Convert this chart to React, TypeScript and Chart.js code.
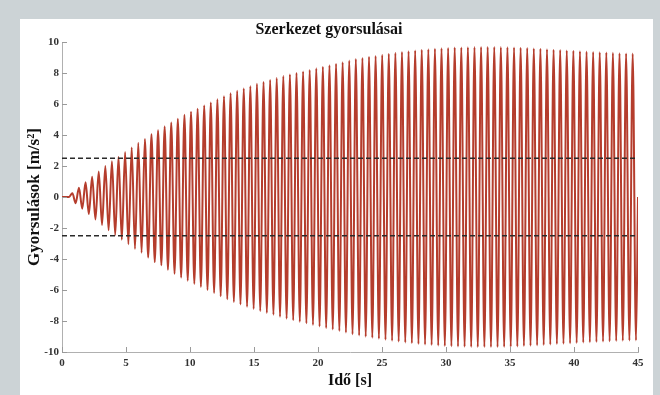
import React, { useEffect, useRef } from "react";
import { Chart, registerables } from "chart.js";

Chart.register(...registerables);

// Time axis (s)
const xTicks = [0, 5, 10, 15, 20, 25, 30, 35, 40, 45];
const yTicks = [-10, -8, -6, -4, -2, 0, 2, 4, 6, 8, 10];
const tStart = 0;
const tEnd = 45;
const onsetTime = 0.55; // signal stays at 0 until here
const firstPeakTime = 0.81; // time of first positive peak
const period = 0.515; // oscillation period (s)

// Positive peak accelerations, one per cycle (m/s^2)
const positivePeaks = [
  0.25, 0.6, 0.95, 1.3, 1.65, 2.0, 2.3, 2.6, 2.9, 3.2, 3.5, 3.75, 4.05, 4.3, 4.55,
  4.8, 5.05, 5.3, 5.5, 5.7, 5.9, 6.1, 6.3, 6.5, 6.7, 6.85, 7.0, 7.15, 7.3,
  7.42, 7.55, 7.67, 7.8, 7.9, 8.0, 8.1, 8.2, 8.3, 8.4, 8.5, 8.6, 8.7, 8.8, 8.9,
  8.97, 9.05, 9.1, 9.17, 9.25, 9.3, 9.35, 9.4, 9.45, 9.5, 9.53, 9.56, 9.6, 9.62,
  9.64, 9.65, 9.66, 9.67, 9.68, 9.68, 9.68, 9.67, 9.66, 9.65, 9.63, 9.61, 9.58,
  9.56, 9.53, 9.5, 9.48, 9.45, 9.43, 9.4, 9.38, 9.36, 9.34, 9.32, 9.3, 9.28,
  9.26, 9.25,
];

// Negative peak accelerations, one per cycle (m/s^2)
const negativePeaks = [
  -0.4, -0.75, -1.1, -1.45, -1.8, -2.15, -2.45, -2.75, -3.05, -3.35, -3.6, -3.9,
  -4.2, -4.4, -4.7, -4.95, -5.2, -5.4, -5.6, -5.8, -6.0, -6.2, -6.4, -6.6, -6.78,
  -6.93, -7.08, -7.22, -7.36, -7.48, -7.6, -7.73, -7.85, -7.95, -8.05, -8.15,
  -8.25, -8.35, -8.45, -8.55, -8.65, -8.75, -8.85, -8.93, -9.01, -9.08, -9.14,
  -9.21, -9.28, -9.33, -9.38, -9.43, -9.48, -9.52, -9.55, -9.58, -9.61, -9.63,
  -9.65, -9.66, -9.67, -9.68, -9.68, -9.68, -9.68, -9.67, -9.66, -9.64, -9.62,
  -9.6, -9.57, -9.55, -9.52, -9.49, -9.47, -9.44, -9.42, -9.39, -9.37, -9.35,
  -9.33, -9.31, -9.29, -9.27, -9.26, -9.25,
];

// Dashed limit lines (m/s^2)
const limitLines = [2.5, -2.5];

const titleText = "Szerkezet gyorsulásai";
const xTitle = "Idő [s]";
const yTitle = "Gyorsulások [m/s²]";

const FONT = "'Liberation Serif', 'Times New Roman', serif";
const SIGNAL_COLOR = "#b53d2d";

function buildSignal() {
  const pts: { x: number; y: number }[] = [
    { x: tStart, y: 0 },
    { x: onsetTime, y: 0 },
  ];
  const n = Math.min(positivePeaks.length, negativePeaks.length);
  for (let k = 0; k < n; k++) {
    const tp = firstPeakTime + k * period;
    if (tp <= tEnd) pts.push({ x: tp, y: positivePeaks[k] });
    const tn = tp + period / 2;
    if (tn <= tEnd) pts.push({ x: tn, y: negativePeaks[k] });
  }
  pts.push({ x: tEnd, y: 0 });
  return pts;
}

const inwardTicks = {
  id: "inwardTicks",
  afterDraw(chart: any) {
    const { ctx, chartArea, scales } = chart;
    ctx.save();
    ctx.strokeStyle = "#9a9a9a";
    ctx.lineWidth = 1;
    scales.x.ticks.forEach((t: any) => {
      const px = Math.round(scales.x.getPixelForValue(t.value)) + 0.5;
      ctx.beginPath();
      ctx.moveTo(px, chartArea.bottom);
      ctx.lineTo(px, chartArea.bottom - 5);
      ctx.stroke();
    });
    scales.y.ticks.forEach((t: any) => {
      const py = Math.round(scales.y.getPixelForValue(t.value)) + 0.5;
      ctx.beginPath();
      ctx.moveTo(chartArea.left, py);
      ctx.lineTo(chartArea.left + 5, py);
      ctx.stroke();
    });
    ctx.restore();
  },
};

export default function App() {
  const ref = useRef<HTMLCanvasElement | null>(null);

  useEffect(() => {
    if (!ref.current) return;
    const limitSets = limitLines.map((v) => ({
      data: [
        { x: tStart, y: v },
        { x: tEnd, y: v },
      ],
      borderColor: "#2a2a2a",
      borderWidth: 1.3,
      borderDash: [5, 3],
      pointRadius: 0,
      showLine: true,
      fill: false,
    }));
    const chart = new Chart(ref.current, {
      type: "scatter",
      data: {
        datasets: [
          ...limitSets,
          {
            data: buildSignal(),
            borderColor: SIGNAL_COLOR,
            borderWidth: 2,
            pointRadius: 0,
            showLine: true,
            fill: false,
            cubicInterpolationMode: "monotone",
          },
        ],
      } as any,
      options: {
        animation: false,
        responsive: false,
        devicePixelRatio: 1,
        layout: { padding: { left: 0, right: 15, top: 0, bottom: 0 } },
        plugins: {
          legend: { display: false },
          tooltip: { enabled: false },
          title: {
            display: true,
            text: titleText,
            color: "#111",
            font: { family: FONT, size: 16, weight: "bold" },
            padding: { top: 1.4, bottom: 2.4 },
          },
        },
        scales: {
          x: {
            type: "linear",
            min: tStart,
            max: tEnd,
            afterFit: (s: any) => {
              s.height = 43;
            },
            afterBuildTicks: (s: any) => {
              s.ticks = xTicks.map((v) => ({ value: v }));
            },
            grid: { display: false, drawTicks: false },
            border: { display: true, color: "#b0b0b0", width: 1 },
            ticks: {
              color: "#333",
              padding: 5,
              maxRotation: 0,
              font: { family: FONT, size: 11, weight: "bold" },
            },
            title: {
              display: true,
              text: xTitle,
              color: "#111",
              font: { family: FONT, size: 16, weight: "bold" },
              padding: { top: 0, bottom: 4.4 },
            },
          },
          y: {
            type: "linear",
            min: -10,
            max: 10,
            afterFit: (s: any) => {
              s.width = 42;
            },
            afterBuildTicks: (s: any) => {
              s.ticks = yTicks.map((v) => ({ value: v }));
            },
            grid: { display: false, drawTicks: false },
            border: { display: true, color: "#b0b0b0", width: 1 },
            ticks: {
              color: "#333",
              padding: 3,
              font: { family: FONT, size: 11, weight: "bold" },
            },
            title: {
              display: true,
              text: yTitle,
              color: "#111",
              font: { family: FONT, size: 17, weight: "bold" },
              padding: { top: 4.8, bottom: 0 },
            },
          },
        },
      } as any,
      plugins: [inwardTicks],
    });
    return () => chart.destroy();
  }, []);

  return (
    <div
      style={{
        position: "absolute",
        left: 0,
        top: 0,
        width: 660,
        height: 395,
        background: "#ccd3d6",
        overflow: "hidden",
      }}
    >
      <div
        style={{
          position: "absolute",
          left: 20,
          top: 19,
          width: 633,
          height: 376,
          background: "#ffffff",
        }}
      >
        <canvas ref={ref} width={633} height={376} style={{ width: 633, height: 376, display: "block" }} />
      </div>
    </div>
  );
}
